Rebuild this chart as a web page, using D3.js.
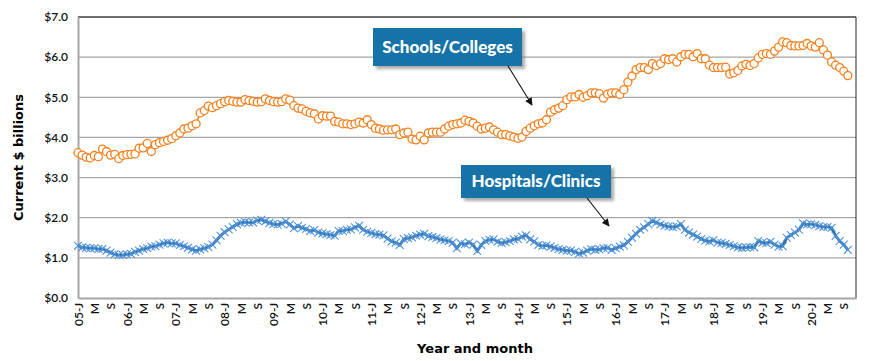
<!DOCTYPE html>
<html>
<head>
<meta charset="utf-8">
<script src="https://cdn.jsdelivr.net/npm/d3@7"></script>
<style>
  body { margin: 0; background: #fff; }
  text { font-family: "Century Gothic", Lato, "DejaVu Sans", sans-serif; }
</style>
</head>
<body>
<div id="chart"></div>
<script>
// tick labels, one per 4 months
var tickLabels = [
  "05-J","M","S","06-J","M","S","07-J","M","S","08-J","M","S",
  "09-J","M","S","10-J","M","S","11-J","M","S","12-J","M","S",
  "13-J","M","S","14-J","M","S","15-J","M","S","16-J","M","S",
  "17-J","M","S","18-J","M","S","19-J","M","S","20-J","M","S"
];
var yTicks = [0, 1, 2, 3, 4, 5, 6, 7];

// monthly values, Jan 2005 - Oct 2020 ($ billions)
var schools = [
  3.62, 3.56, 3.51, 3.49, 3.55, 3.52, 3.71, 3.65, 3.56, 3.58, 3.47, 3.55,
  3.57, 3.58, 3.59, 3.73, 3.74, 3.85, 3.65, 3.82, 3.87, 3.90, 3.93, 3.97,
  4.04, 4.11, 4.21, 4.23, 4.29, 4.34, 4.61, 4.67, 4.78, 4.74, 4.79, 4.84,
  4.89, 4.92, 4.90, 4.88, 4.88, 4.94, 4.92, 4.90, 4.88, 4.89, 4.96, 4.92,
  4.89, 4.88, 4.89, 4.96, 4.93, 4.79, 4.73, 4.71, 4.65, 4.61, 4.59, 4.46,
  4.54, 4.53, 4.53, 4.40, 4.38, 4.34, 4.34, 4.32, 4.34, 4.38, 4.36, 4.44,
  4.32, 4.23, 4.21, 4.18, 4.19, 4.19, 4.21, 4.07, 4.11, 4.13, 3.96, 3.94,
  4.03, 3.94, 4.11, 4.13, 4.13, 4.13, 4.21, 4.28, 4.32, 4.34, 4.36, 4.43,
  4.40, 4.36, 4.28, 4.21, 4.23, 4.26, 4.19, 4.13, 4.07, 4.07, 4.04, 4.01,
  3.98, 4.01, 4.15, 4.23, 4.29, 4.34, 4.36, 4.44, 4.63, 4.69, 4.73, 4.79,
  4.94, 5.01, 5.01, 5.07, 5.00, 5.04, 5.11, 5.11, 5.09, 4.98, 5.08, 5.11,
  5.11, 5.07, 5.19, 5.38, 5.53, 5.69, 5.74, 5.74, 5.69, 5.84, 5.79, 5.84,
  5.96, 5.94, 5.96, 5.88, 6.01, 6.07, 6.07, 6.01, 6.09, 5.96, 5.96, 5.80,
  5.74, 5.74, 5.74, 5.75, 5.58, 5.61, 5.67, 5.78, 5.82, 5.79, 5.84, 5.98,
  6.07, 6.09, 6.07, 6.15, 6.25, 6.38, 6.36, 6.29, 6.28, 6.28, 6.29, 6.34,
  6.28, 6.25, 6.36, 6.18, 6.05, 5.88, 5.80, 5.74, 5.65, 5.54
];
var hospitals = [
  1.30, 1.26, 1.25, 1.24, 1.24, 1.22, 1.22, 1.18, 1.13, 1.09, 1.07, 1.07,
  1.09, 1.10, 1.15, 1.18, 1.22, 1.24, 1.28, 1.29, 1.33, 1.36, 1.38, 1.36,
  1.36, 1.32, 1.29, 1.25, 1.21, 1.18, 1.21, 1.24, 1.27, 1.33, 1.44, 1.55,
  1.64, 1.71, 1.77, 1.84, 1.87, 1.89, 1.88, 1.88, 1.93, 1.95, 1.91, 1.87,
  1.84, 1.83, 1.85, 1.91, 1.83, 1.74, 1.79, 1.75, 1.72, 1.67, 1.69, 1.63,
  1.61, 1.59, 1.57, 1.55, 1.67, 1.67, 1.70, 1.71, 1.76, 1.80, 1.70, 1.65,
  1.62, 1.59, 1.58, 1.56, 1.48, 1.41, 1.38, 1.32, 1.47, 1.49, 1.51, 1.55,
  1.58, 1.60, 1.54, 1.52, 1.49, 1.46, 1.44, 1.42, 1.38, 1.24, 1.36, 1.34,
  1.38, 1.33, 1.17, 1.32, 1.42, 1.45, 1.46, 1.40, 1.37, 1.39, 1.42, 1.46,
  1.47, 1.53, 1.56, 1.46, 1.41, 1.32, 1.30, 1.31, 1.28, 1.25, 1.22, 1.20,
  1.18, 1.18, 1.15, 1.11, 1.13, 1.18, 1.22, 1.20, 1.21, 1.24, 1.25, 1.20,
  1.24, 1.28, 1.31, 1.40, 1.50, 1.60, 1.70, 1.76, 1.84, 1.92, 1.88, 1.83,
  1.80, 1.78, 1.77, 1.78, 1.84, 1.70, 1.63, 1.58, 1.53, 1.47, 1.43, 1.41,
  1.44, 1.38, 1.37, 1.35, 1.32, 1.29, 1.26, 1.25, 1.26, 1.27, 1.26, 1.42,
  1.38, 1.37, 1.40, 1.33, 1.28, 1.29, 1.50, 1.57, 1.63, 1.70, 1.86, 1.83,
  1.84, 1.82, 1.79, 1.77, 1.77, 1.75, 1.55, 1.42, 1.33, 1.20
];

var W = 870, H = 361;
var margin = {top: 17, right: 14, bottom: 63, left: 78};
var width = W - margin.left - margin.right,
    height = H - margin.top - margin.bottom;
var nMonths = tickLabels.length * 4;   // Jan 2005 - Dec 2020 categories

var svg = d3.select("#chart")
    .append("svg")
    .attr("width", W)
    .attr("height", H);

var defs = svg.append("defs");
defs.append("marker")
    .attr("id", "arrow")
    .attr("viewBox", "0 0 10 10")
    .attr("refX", 9).attr("refY", 5)
    .attr("markerWidth", 7).attr("markerHeight", 7)
    .attr("orient", "auto")
    .append("path")
    .attr("d", "M0,0L10,5L0,10z")
    .attr("fill", "#111");
var blur = defs.append("filter").attr("id", "shadow")
    .attr("x", "-20%").attr("y", "-20%").attr("width", "140%").attr("height", "160%");
blur.append("feGaussianBlur").attr("stdDeviation", 1.5);

var g = svg.append("g")
    .attr("transform", `translate(${margin.left}, ${margin.top})`);

var x = d3.scaleLinear().domain([0, nMonths - 1]).range([0, width]);
var y = d3.scaleLinear().domain([0, 7]).range([height, 0]);

// gridlines
g.append("g")
    .selectAll("line")
    .data(yTicks.slice(1))
    .enter()
    .append("line")
    .attr("x1", 0).attr("x2", width)
    .attr("y1", d => y(d)).attr("y2", d => y(d))
    .attr("stroke", "#a6a6a6")
    .attr("stroke-width", 1.3);

// plot area border (top/right)
g.append("path")
    .attr("d", `M0,0H${width}V${height}`)
    .attr("fill", "none")
    .attr("stroke", "#222")
    .attr("stroke-width", 1);

// Y axis
var yAxis = g.append("g")
    .call(d3.axisLeft(y).tickValues(yTicks).tickSize(0).tickPadding(10)
        .tickFormat(d => "$" + d3.format(".1f")(d)));
yAxis.select(".domain").attr("stroke", "#a6a6a6").attr("stroke-width", 2);
yAxis.selectAll("text")
    .style("font-size", "12px")
    .style("font-weight", "600")
    .attr("fill", "#111");

// X axis
var xAxis = g.append("g")
    .attr("transform", `translate(0, ${height})`)
    .call(d3.axisBottom(x).tickValues(d3.range(0, nMonths, 4)).tickSize(0)
        .tickFormat((d, i) => tickLabels[i]));
xAxis.select(".domain").attr("stroke", "#a6a6a6").attr("stroke-width", 2);
xAxis.selectAll("text")
    .attr("transform", "rotate(-90)")
    .attr("x", -5)
    .attr("y", 0)
    .attr("dy", "0.35em")
    .style("text-anchor", "end")
    .style("font-size", "12px")
    .style("font-weight", "600")
    .attr("fill", "#111");

// axis titles
svg.append("text")
    .attr("transform", `translate(18, ${margin.top + height / 2}) rotate(-90)`)
    .attr("dy", "0.35em")
    .style("text-anchor", "middle")
    .style("font-family", "'DejaVu Sans', sans-serif")
    .style("font-size", "13px")
    .style("font-weight", "bold")
    .text("Current $ billions");

svg.append("text")
    .attr("x", 475)
    .attr("y", 353)
    .style("text-anchor", "middle")
    .style("font-family", "'DejaVu Sans', sans-serif")
    .style("font-size", "13px")
    .style("font-weight", "bold")
    .text("Year and month");

// Hospitals line with x markers
var line = d3.line().x((d, i) => x(i)).y(d => y(d));
g.append("path")
    .datum(hospitals)
    .attr("d", line)
    .attr("fill", "none")
    .attr("stroke", "#2a6aab")
    .attr("stroke-width", 2.8);
g.append("g")
    .selectAll("path")
    .data(hospitals)
    .enter()
    .append("path")
    .attr("transform", (d, i) => `translate(${x(i)}, ${y(d)})`)
    .attr("d", d3.symbol(d3.symbolTimes, 42))
    .attr("fill", "none")
    .attr("stroke", "#4f93d8")
    .attr("stroke-width", 1.1);

// Schools line with open circles
g.append("path")
    .datum(schools)
    .attr("d", line)
    .attr("fill", "none")
    .attr("stroke", "#f47f1c")
    .attr("stroke-width", 1.5);
g.append("g")
    .selectAll("circle")
    .data(schools)
    .enter()
    .append("circle")
    .attr("cx", (d, i) => x(i))
    .attr("cy", d => y(d))
    .attr("r", 4)
    .attr("fill", "#fff")
    .attr("stroke", "#f47f1c")
    .attr("stroke-width", 1.3);

// callout boxes
function callout(label, bx, by, bw, bh, ax1, ay1, ax2, ay2) {
    svg.append("rect")
        .attr("x", bx + 3).attr("y", by + 3)
        .attr("width", bw).attr("height", bh)
        .attr("fill", "#777")
        .attr("opacity", 0.6)
        .attr("filter", "url(#shadow)");
    svg.append("rect")
        .attr("x", bx).attr("y", by)
        .attr("width", bw).attr("height", bh)
        .attr("fill", "#1673a8");
    svg.append("text")
        .attr("x", bx + bw / 2)
        .attr("y", by + bh / 2)
        .attr("dy", "0.35em")
        .style("text-anchor", "middle")
        .style("font-size", "17px")
        .style("font-weight", "900")
        .attr("fill", "#fff")
        .text(label);
    svg.append("line")
        .attr("x1", ax1).attr("y1", ay1)
        .attr("x2", ax2).attr("y2", ay2)
        .attr("stroke", "#111")
        .attr("stroke-width", 1.1)
        .attr("marker-end", "url(#arrow)");
}

callout("Schools/Colleges", 373, 28, 149, 38, 508, 66, 532, 105);
callout("Hospitals/Clinics", 461, 165, 150, 33, 587, 198, 609, 226);
</script>
</body>
</html>
